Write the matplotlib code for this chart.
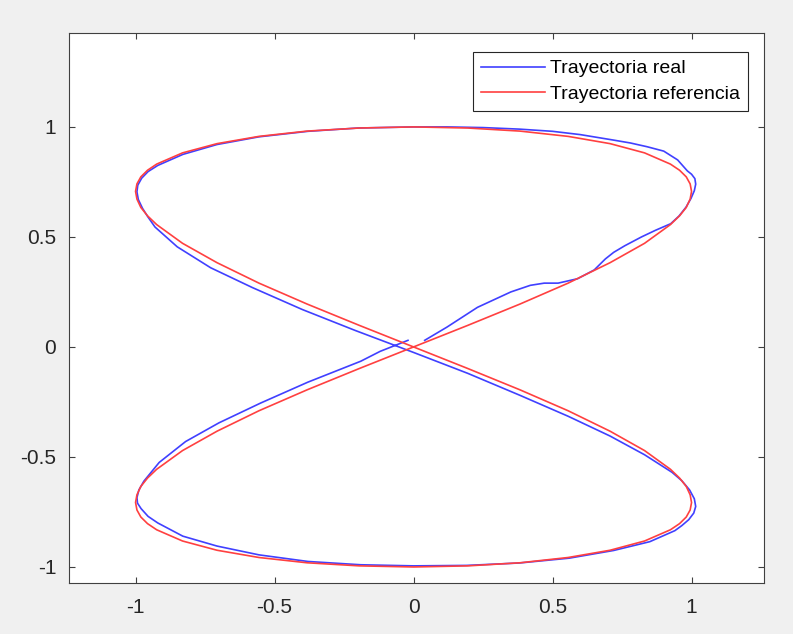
import matplotlib
matplotlib.use('Agg')
import matplotlib.pyplot as plt

# trayectoria de referencia
x_ref = [0.0, 0.195, 0.383, 0.556, 0.707, 0.831, 0.924, 0.957, 0.981, 0.995, 1.0, 0.995, 0.981,
         0.957, 0.924, 0.831, 0.707, 0.556, 0.383, 0.195, 0.0, -0.195, -0.383, -0.556, -0.707,
         -0.831, -0.924, -0.957, -0.981, -0.995, -1.0, -0.995, -0.981, -0.957, -0.924, -0.831,
         -0.707, -0.556, -0.383, -0.195, 0.0,
         0.195, 0.383, 0.556, 0.707, 0.831, 0.924, 0.957, 0.981, 0.995, 1.0, 0.995, 0.981,
         0.957, 0.924, 0.831, 0.707, 0.556, 0.383, 0.195, 0.0, -0.195, -0.383, -0.556, -0.707,
         -0.831, -0.924, -0.957, -0.981, -0.995, -1.0, -0.995, -0.981, -0.957, -0.924, -0.831,
         -0.707, -0.556, -0.383, -0.195, 0.0]
y_ref = [0.0, 0.098, 0.195, 0.290, 0.383, 0.471, 0.556, 0.596, 0.634, 0.672, 0.707, 0.741, 0.773,
         0.803, 0.831, 0.882, 0.924, 0.957, 0.981, 0.995, 1.0, 0.995, 0.981, 0.957, 0.924,
         0.882, 0.831, 0.803, 0.773, 0.741, 0.707, 0.672, 0.634, 0.596, 0.556, 0.471,
         0.383, 0.290, 0.195, 0.098, 0.0,
         -0.098, -0.195, -0.290, -0.383, -0.471, -0.556, -0.596, -0.634, -0.672, -0.707, -0.741,
         -0.773, -0.803, -0.831, -0.882, -0.924, -0.957, -0.981, -0.995, -1.0, -0.995, -0.981,
         -0.957, -0.924, -0.882, -0.831, -0.803, -0.773, -0.741, -0.707, -0.672, -0.634, -0.596,
         -0.556, -0.471, -0.383, -0.290, -0.195, -0.098, 0.0]

# trayectoria real
x_real = [0.04, 0.12, 0.23, 0.35, 0.42, 0.47, 0.52, 0.59, 0.65, 0.69, 0.72, 0.76, 0.82, 0.87,
          0.925, 0.955, 0.98, 0.998, 1.01, 1.015, 1.012, 1.0, 0.985, 0.95, 0.90, 0.84, 0.78,
          0.72, 0.60, 0.50, 0.38, 0.25, 0.12, 0.0, -0.2, -0.38, -0.556, -0.707, -0.83, -0.92,
          -0.955, -0.978, -0.992, -0.995, -0.99, -0.975, -0.955, -0.93, -0.85, -0.73, -0.58,
          -0.40, -0.21, 0.0, 0.195, 0.383, 0.556, 0.707, 0.831, 0.93, 0.965, 0.993, 1.01,
          1.015, 1.008, 0.99, 0.965, 0.94, 0.85, 0.72, 0.56, 0.38, 0.19, 0.0, -0.19, -0.38,
          -0.556, -0.707, -0.83, -0.92, -0.955, -0.98, -0.993, -0.995, -0.988, -0.97, -0.915,
          -0.82, -0.70, -0.55, -0.38, -0.19, -0.12, -0.02]
y_real = [0.03, 0.09, 0.18, 0.25, 0.28, 0.29, 0.29, 0.31, 0.35, 0.40, 0.43, 0.46, 0.50, 0.53,
          0.56, 0.595, 0.635, 0.675, 0.71, 0.74, 0.765, 0.785, 0.80, 0.85, 0.89, 0.91, 0.927,
          0.94, 0.965, 0.98, 0.99, 0.997, 1.0, 1.0, 0.995, 0.98, 0.955, 0.92, 0.875, 0.825,
          0.797, 0.767, 0.735, 0.705, 0.67, 0.63, 0.59, 0.545, 0.455, 0.36, 0.27,
          0.17, 0.075, -0.025, -0.12, -0.22, -0.315, -0.405, -0.49, -0.57, -0.608, -0.65, -0.69,
          -0.725, -0.755, -0.785, -0.812, -0.835, -0.885, -0.925, -0.96, -0.982, -0.993, -0.995,
          -0.99, -0.975, -0.945, -0.905, -0.86, -0.80, -0.77, -0.735, -0.71, -0.685, -0.65,
          -0.61, -0.525, -0.43, -0.345, -0.255, -0.16, -0.065, -0.02, 0.03]

ticks = [-1, -0.5, 0, 0.5, 1]
tick_labels = ['-1', '-0.5', '0', '0.5', '1']

plt.rcParams['font.family'] = ['Liberation Sans', 'DejaVu Sans']

fig = plt.figure(figsize=(7.93, 6.34), dpi=100, facecolor='#f0f0f0')
ax = fig.add_axes([0.0868, 0.0804, 0.8764, 0.8676])

ax.plot(x_real, y_real, color=(0.25, 0.25, 1.0), lw=1.2, label='Trayectoria real')
ax.plot(x_ref, y_ref, color=(1.0, 0.25, 0.25), lw=1.2, label='Trayectoria referencia')

ax.set_xlim(-1.24, 1.26)
ax.set_ylim(-1.073, 1.427)
ax.set_xticks(ticks)
ax.set_xticklabels(tick_labels)
ax.set_yticks(ticks)
ax.set_yticklabels(tick_labels)
ax.tick_params(direction='in', length=4, width=0.8, color='#404040', labelcolor='#262626',
               labelsize=15, top=True, right=True)
ax.tick_params(axis='x', pad=11)
ax.tick_params(axis='y', pad=9)
for s in ax.spines.values():
    s.set_color('#404040')
    s.set_linewidth(0.8)

leg = ax.legend(loc='upper right', bbox_to_anchor=(0.977, 0.9655), fontsize=14,
                fancybox=False, framealpha=1, edgecolor='#262626', handlelength=3.3,
                handletextpad=0.25, labelspacing=0.4, borderpad=0.4, borderaxespad=0)
leg.get_frame().set_linewidth(0.8)

plt.savefig('out.png', dpi=100, facecolor=fig.get_facecolor())
